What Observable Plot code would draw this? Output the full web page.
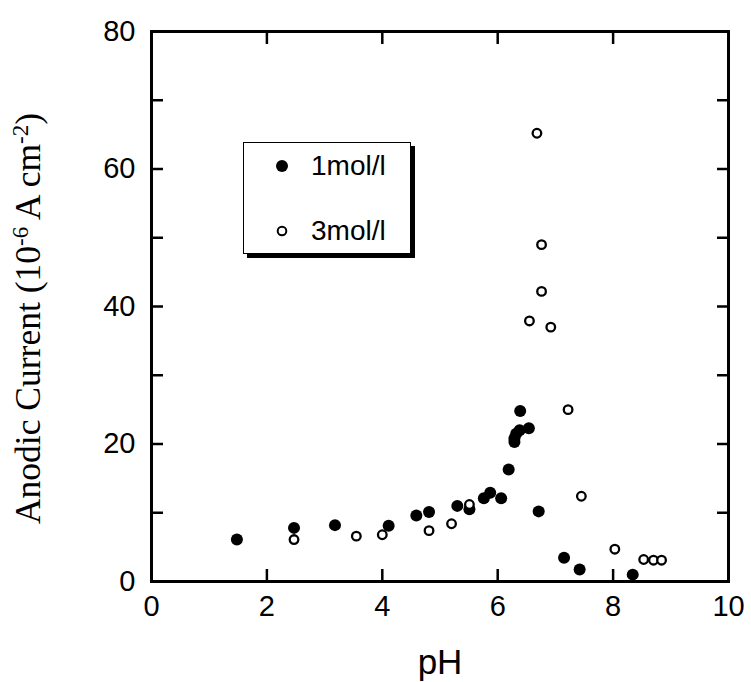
<!DOCTYPE html>
<html><head><meta charset="utf-8">
<script src="https://cdn.jsdelivr.net/npm/d3@7"></script>
<script src="https://cdn.jsdelivr.net/npm/@observablehq/plot@0.6"></script>
<style>
body{margin:0;background:#fff}
#wrap{position:relative;width:751px;height:682px}
#legend{position:absolute;left:243px;top:142px;width:166px;height:110px;border:1.5px solid #000;background:#fff;box-shadow:4px 4px 0 #000;font-family:"Liberation Sans",Arial,sans-serif;font-size:28px}
#legend .row{position:absolute;left:0;display:flex;align-items:center;height:30px}
#legend svg{margin-left:31px;margin-right:22px}
</style>
</head><body><div id="wrap"></div>
<script>
// Series: 1 mol/l (filled) and 3 mol/l (open)
const ph1  = [1.48, 2.47, 3.18, 4.11, 4.59, 4.81, 5.30, 5.51, 5.76, 5.87, 6.06, 6.19, 6.29, 6.29, 6.32, 6.38, 6.39, 6.54, 6.71, 7.15, 7.42, 8.34];
const cur1 = [6.1, 7.8, 8.2, 8.1, 9.6, 10.1, 11.0, 10.5, 12.1, 12.9, 12.1, 16.3, 20.3, 20.8, 21.5, 22.0, 24.8, 22.3, 10.2, 3.45, 1.75, 1.0];
const ph3  = [2.47, 3.55, 4.0, 4.81, 5.20, 5.51, 6.55, 6.68, 6.76, 6.76, 6.92, 7.22, 7.45, 8.03, 8.53, 8.70, 8.84];
const cur3 = [6.1, 6.6, 6.8, 7.4, 8.4, 11.2, 37.9, 65.2, 49.0, 42.2, 37.0, 25.0, 12.4, 4.7, 3.2, 3.1, 3.1];
const seriesNames = ["1mol/l", "3mol/l"];

const xTicks = [0, 2, 4, 6, 8, 10];
const yTicks = [0, 10, 20, 30, 40, 50, 60, 70, 80];
const yLabels = [0, 20, 40, 60, 80];
const xTitle = "pH";
const yTitle = "Anodic Current (10-6 A cm-2)";

const d1 = ph1.map((x, i) => ({x, y: cur1[i]}));
const d3s = ph3.map((x, i) => ({x, y: cur3[i]}));

const chart = Plot.plot({
  width: 751, height: 682,
  marginLeft: 151, marginRight: 23, marginTop: 31, marginBottom: 101,
  x: {domain: [0, 10]},
  y: {domain: [0, 80]},
  style: {fontFamily: "'Liberation Sans', Arial, sans-serif", background: "white", color: "black", overflow: "visible"},
  marks: [
    Plot.axisX(xTicks, {anchor: "bottom", tickSize: -12, fill: "none", strokeWidth: 2.5, label: null}),
    Plot.axisX(xTicks, {anchor: "top", tickSize: -12, fill: "none", strokeWidth: 2.5, label: null}),
    Plot.axisY(yTicks, {anchor: "left", tickSize: -12, fill: "none", strokeWidth: 2.5, label: null}),
    Plot.axisY(yTicks, {anchor: "right", tickSize: -12, fill: "none", strokeWidth: 2.5, label: null}),
    Plot.axisX(xTicks, {anchor: "bottom", tickSize: 0, tickPadding: 14, fontSize: 29, label: null}),
    Plot.axisY(yLabels, {anchor: "left", tickSize: 0, tickPadding: 16, fontSize: 29, label: null}),
    Plot.frame({strokeWidth: 3}),
    Plot.dot(d1, {x: "x", y: "y", r: 6, fill: "black", stroke: "none"}),
    Plot.dot(d3s, {x: "x", y: "y", r: 4.3, fill: "white", stroke: "black", strokeWidth: 2.3}),
    Plot.text([xTitle], {frameAnchor: "bottom", dy: 92, fontSize: 35, fill: "black"}),
    Plot.text([yTitle], {frameAnchor: "left", textAnchor: "middle", rotate: -90, dx: -123, dy: 12, fontSize: 35.5, fontFamily: "'Liberation Serif', 'Times New Roman', serif", fill: "black"})
  ]
});

// Superscripts in the y title
d3.select(chart).selectAll("text").filter(function() { return this.textContent === yTitle; }).each(function() {
  const t = d3.select(this);
  t.text(null);
  const parts = [["Anodic Current (10", 0], ["-6", 1], [" A cm", -1], ["-2", 1], [")", -1]];
  for (const [s, mode] of parts) {
    const ts = t.append("tspan").text(s);
    if (mode === 1) ts.attr("font-size", 23).attr("dy", -12);
    else if (mode === -1) ts.attr("dy", 12);
  }
});

const wrap = document.getElementById("wrap");
wrap.appendChild(chart);

const legend = document.createElement("div");
legend.id = "legend";
legend.innerHTML =
  `<div class="row" style="top:8px"><svg width="14" height="14"><circle cx="7" cy="7" r="6" fill="black"/></svg><span>${seriesNames[0]}</span></div>` +
  `<div class="row" style="top:73px"><svg width="14" height="14"><circle cx="7" cy="7" r="4.3" fill="white" stroke="black" stroke-width="2"/></svg><span>${seriesNames[1]}</span></div>`;
wrap.appendChild(legend);
</script>
</body></html>
